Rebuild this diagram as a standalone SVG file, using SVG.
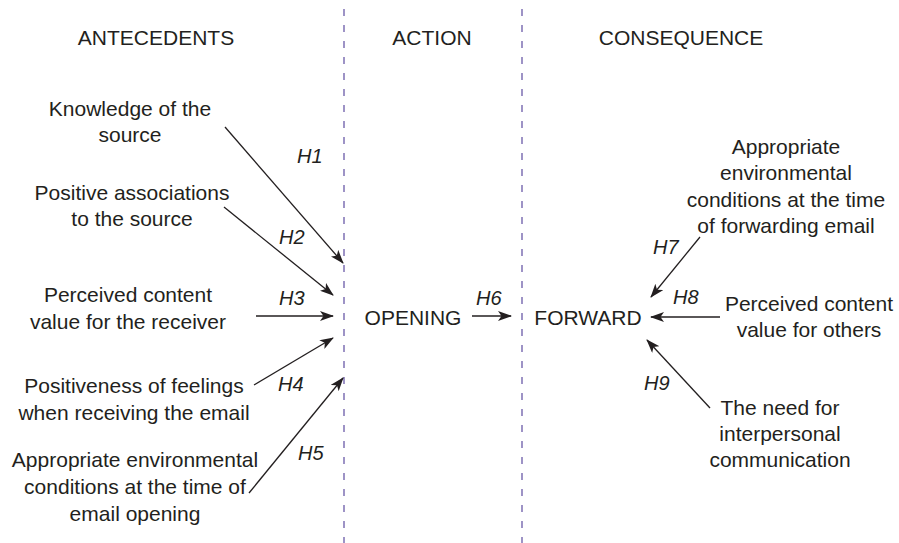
<svg xmlns="http://www.w3.org/2000/svg" width="899" height="543" viewBox="0 0 899 543">
  <style>
    text { font-family: "Liberation Sans", Arial, sans-serif; font-size: 21px; fill: #231f20; text-anchor: middle; }
    .hyp { font-style: italic; font-size: 20px; text-anchor: start; }
    .divider { stroke: #6a5aa8; stroke-width: 1.3; stroke-dasharray: 7 9; fill: none; }
    .link { stroke: #231f20; stroke-width: 1.3; fill: none; marker-end: url(#head); }
  </style>
  <defs>
    <marker id="head" viewBox="0 0 14 10" refX="13" refY="5" markerWidth="14" markerHeight="10" markerUnits="userSpaceOnUse" orient="auto">
      <path d="M0,0 L14,5 L0,10 L3.5,5 Z" fill="#231f20"/>
    </marker>
  </defs>
  <rect width="899" height="543" fill="#ffffff"/>

  <!-- column dividers -->
  <g id="dividers">
    <line class="divider" x1="344" y1="9" x2="344" y2="543"/>
    <line class="divider" x1="522" y1="9" x2="522" y2="543"/>
  </g>

  <!-- column headings -->
  <g id="headings">
    <text x="156" y="45">ANTECEDENTS</text>
    <text x="432" y="45">ACTION</text>
    <text x="681" y="45">CONSEQUENCE</text>
  </g>

  <!-- antecedent nodes -->
  <g id="knowledge">
    <text x="130" y="116">Knowledge of the</text>
    <text x="130" y="142">source</text>
  </g>
  <g id="associations">
    <text x="132" y="200">Positive associations</text>
    <text x="132" y="226">to the source</text>
  </g>
  <g id="content-receiver">
    <text x="128" y="302">Perceived content</text>
    <text x="128" y="329">value for the receiver</text>
  </g>
  <g id="feelings">
    <text x="134" y="393">Positiveness of feelings</text>
    <text x="134" y="420">when receiving the email</text>
  </g>
  <g id="conditions-opening">
    <text x="135" y="467">Appropriate environmental</text>
    <text x="135" y="494">conditions at the time of</text>
    <text x="135" y="521">email opening</text>
  </g>

  <!-- action and consequence -->
  <g id="opening">
    <text x="413" y="325">OPENING</text>
  </g>
  <g id="forward">
    <text x="588" y="325">FORWARD</text>
  </g>

  <!-- consequence drivers -->
  <g id="conditions-forwarding">
    <text x="786" y="154">Appropriate</text>
    <text x="786" y="180">environmental</text>
    <text x="786" y="207">conditions at the time</text>
    <text x="786" y="233">of forwarding email</text>
  </g>
  <g id="content-others">
    <text x="809" y="311">Perceived content</text>
    <text x="809" y="337">value for others</text>
  </g>
  <g id="interpersonal">
    <text x="780" y="415">The need for</text>
    <text x="780" y="441">interpersonal</text>
    <text x="780" y="467">communication</text>
  </g>

  <!-- hypothesis arrows -->
  <g id="connectors">
    <line class="link" x1="225" y1="127" x2="343" y2="263"/>
    <line class="link" x1="224" y1="207" x2="333" y2="295"/>
    <line class="link" x1="256" y1="316" x2="333" y2="316"/>
    <line class="link" x1="254" y1="385" x2="333" y2="338"/>
    <line class="link" x1="249" y1="493" x2="343" y2="378"/>
    <line class="link" x1="472" y1="316" x2="511" y2="316"/>
    <line class="link" x1="700" y1="237" x2="651" y2="297"/>
    <line class="link" x1="720" y1="317" x2="651" y2="317"/>
    <line class="link" x1="710" y1="408" x2="647" y2="340"/>
  </g>

  <!-- hypothesis labels -->
  <g id="labels">
    <text class="hyp" x="297" y="163">H1</text>
    <text class="hyp" x="279" y="244">H2</text>
    <text class="hyp" x="279" y="305">H3</text>
    <text class="hyp" x="278" y="391">H4</text>
    <text class="hyp" x="298" y="460">H5</text>
    <text class="hyp" x="476" y="305">H6</text>
    <text class="hyp" x="653" y="254">H7</text>
    <text class="hyp" x="673" y="304">H8</text>
    <text class="hyp" x="644" y="390">H9</text>
  </g>
</svg>
